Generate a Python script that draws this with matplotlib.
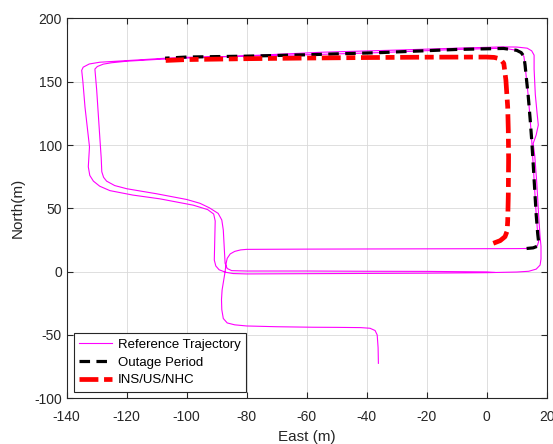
import matplotlib
matplotlib.use('Agg')
import matplotlib.pyplot as plt

plt.rcParams['font.family'] = ['Liberation Sans', 'DejaVu Sans']
plt.rcParams['axes.unicode_minus'] = False

# reference trajectory (two loops)
ref_x = [-36.1, -36.2, -36.5, -37.2, -38.9, -42, -50, -58, -70, -80, -84, -86.5, -87.8, -88.3, -88.4, -88.2,
         -87.6, -87.2, -86.9, -86.5, -85.5, -84, -82, -80, -60, -40, -20, 0, 10, 13.3, 15.5, 16.8,
         17.3, 17.0, 16.5, 16, 15.5, 15, 14.5, 13.8, 13.3, 12.8, 12.4, 11.5, 10, 7, 3,
         -10, -35.6, -60, -80, -100, -107, -115, -125, -129, -132.5, -134.5, -135, -134.6, -133.9, -133.2,
         -132.4, -132.6, -132.8, -132.3, -131.1, -129, -125.6, -118, -108.9, -97.8, -93, -91, -90.5, -90.6,
         -90.8, -90.3, -89.2, -87, -84.5, -80, -60, -40, -20, 0, 10, 14, 16.5, 17.8, 18.1, 18.1, 17.8,
         17.3, 16.7, 16, 15.5, 16.5, 17.2, 16.8, 16.2, 15.8, 15.8, 15, 13.5, 10, 5,
         -10, -30, -55, -80, -100, -110, -120, -125, -127.8, -129.8, -130.6, -130, -129.5, -128.9, -128.5,
         -128.3, -127.7, -126.7, -124, -120, -110, -100, -95.6, -92.5, -89.5, -88.3, -87.8, -87.5, -87.2,
         -86.5, -85, -80, -60, -40, -20, 0, 2.7]
ref_y = [-72.4, -60, -50, -46.5, -44.7, -44.2, -44, -43.9, -43.5, -42.9, -42, -40.5, -37, -30, -22, -14.5,
         -6, 0, 6, 10.5, 14, 16, 17.2, 17.6, 17.8, 17.9, 18, 18.1, 18.2, 18.3, 18.8, 20,
         23.6, 30, 45, 65, 85, 104, 120, 140, 151, 163, 170, 173, 174.8, 176, 176.3,
         175.5, 173, 171.3, 170.2, 169.3, 168.6, 167.4, 166, 165.4, 164, 161.5, 159, 150, 130, 115,
         98.6, 90, 82.8, 76, 71.5, 67.5, 64, 60.5, 57.5, 52.5, 49, 45.5, 40, 30,
         9.2, 4.5, 1.5, -0.5, -1.5, -1.8, -1.6, -1.4, -1.2, -0.8, -0.3, 0.3, 2, 5.2, 10, 20, 27.6,
         45, 70, 92, 101.3, 108, 115.8, 125, 140, 160, 171, 174.4, 176.5, 177.4, 177.5,
         176.5, 175, 173.3, 170.5, 168.7, 167.6, 166.2, 165, 163.9, 162, 160, 143.4, 125, 103.9, 90,
         78.9, 74.5, 71.5, 68, 65.5, 61.5, 57, 54, 50.5, 46, 40.8, 32.9, 20, 6.6,
         2.5, 0.8, 0.5, 0.5, 0.3, 0.2, -0.2, -0.6]

# outage period
out_x = [13.3, 15.5, 16.8, 17.3, 17.0, 16.5, 16, 15.5, 15, 14.5, 13.8, 13.3, 12.8, 12.4, 11.5, 10, 5.6,
         -10, -35.6, -60, -80, -100, -107.2]
out_y = [18.3, 18.8, 20, 23.6, 30, 45, 65, 85, 104, 120, 140, 151, 163, 170, 173, 174.8, 176.3,
         175.5, 173, 171.3, 170.2, 169.5, 168.6]

# INS/US/NHC solution
ins_x = [2.2, 4.5, 6.1, 6.8, 7.0, 7.2, 7.3, 7.2, 7.0, 6.4, 5.7, 5.0, 3.9, 2.5, 0, -20, -40, -60, -80, -100, -107]
ins_y = [22.4, 24.5, 27.6, 32, 40, 60, 90, 111.8, 130, 151.3, 164.5, 166.5, 168.4, 169.2, 169.5,
         169.4, 169.1, 168.7, 168.2, 167.5, 166.8]

fig = plt.figure(figsize=(5.53, 4.44), dpi=100)
ax = fig.add_axes([0.1206, 0.103, 0.868, 0.8555])

ax.plot(ref_x, ref_y, color='#ff00ff', lw=0.8, label='Reference Trajectory')
ax.plot(out_x, out_y, color='black', lw=2.3, ls=(0, (3.3, 2)), label='Outage Period')
ax.plot(ins_x, ins_y, color='red', lw=3.4, ls=(0, (4, 1.2, 1.9, 1.2)), label='INS/US/NHC')

ax.set_xlim(-140, 20)
ax.set_ylim(-100, 200)
ax.set_xticks(range(-140, 21, 20))
ax.set_yticks(range(-100, 201, 50))
ax.grid(True, color='#d9d9d9', lw=0.6)
ax.set_axisbelow(True)
ax.tick_params(direction='in', top=True, right=True, labelsize=10, colors='#262626', length=4)
ax.tick_params(axis='x', pad=8.5)
for s in ax.spines.values():
    s.set_color('#262626')
    s.set_linewidth(0.8)

ax.set_xlabel('East (m)', fontsize=11, color='#262626', labelpad=4.5)
ax.set_ylabel('North(m)', fontsize=11, color='#262626', labelpad=6.5)

leg = ax.legend(loc='lower left', bbox_to_anchor=(0.0152, 0.0174), borderaxespad=0, fontsize=9.5,
                fancybox=False, framealpha=1, edgecolor='#262626', handlelength=2.5,
                handletextpad=0.4, labelspacing=0.42, borderpad=0.4)
leg.get_frame().set_linewidth(0.8)

fig.savefig('out.png', dpi=100)
